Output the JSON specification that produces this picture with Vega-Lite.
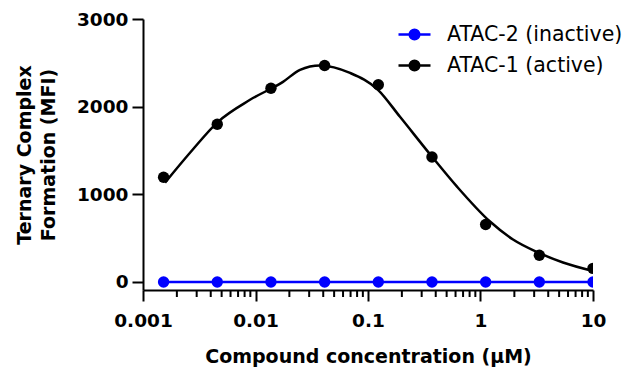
{
  "$schema": "https://vega.github.io/schema/vega-lite/v6.json",
  "width": 450,
  "height": 271,
  "autosize": {"type": "none"},
  "padding": {"left": 143, "top": 19, "right": 30, "bottom": 81},
  "background": "white",
  "config": {
    "view": {"stroke": null},
    "font": "DejaVu Sans",
    "axis": {
      "domainColor": "black",
      "domainWidth": 2,
      "tickColor": "black",
      "tickWidth": 2,
      "labelColor": "black",
      "labelFont": "DejaVu Sans",
      "labelFontWeight": "bold",
      "labelFontSize": 18.5,
      "titleFont": "DejaVu Sans",
      "titleFontWeight": "bold",
      "titleFontSize": 19,
      "titleColor": "black",
      "grid": false
    }
  },
  "datasets": {
    "pts": [
      {"conc": 0.001524, "mfi": 1195, "series": "ATAC-1 (active)"},
      {"conc": 0.004572, "mfi": 1800, "series": "ATAC-1 (active)"},
      {"conc": 0.01372, "mfi": 2210, "series": "ATAC-1 (active)"},
      {"conc": 0.04115, "mfi": 2470, "series": "ATAC-1 (active)"},
      {"conc": 0.1235, "mfi": 2250, "series": "ATAC-1 (active)"},
      {"conc": 0.3704, "mfi": 1425, "series": "ATAC-1 (active)"},
      {"conc": 1.111, "mfi": 655, "series": "ATAC-1 (active)"},
      {"conc": 3.333, "mfi": 305, "series": "ATAC-1 (active)"},
      {"conc": 10, "mfi": 155, "series": "ATAC-1 (active)"},
      {"conc": 0.001524, "mfi": 0, "series": "ATAC-2 (inactive)"},
      {"conc": 0.004572, "mfi": 0, "series": "ATAC-2 (inactive)"},
      {"conc": 0.01372, "mfi": 0, "series": "ATAC-2 (inactive)"},
      {"conc": 0.04115, "mfi": 0, "series": "ATAC-2 (inactive)"},
      {"conc": 0.1235, "mfi": 0, "series": "ATAC-2 (inactive)"},
      {"conc": 0.3704, "mfi": 0, "series": "ATAC-2 (inactive)"},
      {"conc": 1.111, "mfi": 0, "series": "ATAC-2 (inactive)"},
      {"conc": 3.333, "mfi": 0, "series": "ATAC-2 (inactive)"},
      {"conc": 10, "mfi": 0, "series": "ATAC-2 (inactive)"}
    ],
    "lines": [
      {"conc": 0.00157, "mfi": 1133, "series": "ATAC-1 (active)"},
      {"conc": 0.002617, "mfi": 1474, "series": "ATAC-1 (active)"},
      {"conc": 0.004642, "mfi": 1827, "series": "ATAC-1 (active)"},
      {"conc": 0.00894, "mfi": 2078, "series": "ATAC-1 (active)"},
      {"conc": 0.01756, "mfi": 2283, "series": "ATAC-1 (active)"},
      {"conc": 0.02487, "mfi": 2420, "series": "ATAC-1 (active)"},
      {"conc": 0.03745, "mfi": 2470, "series": "ATAC-1 (active)"},
      {"conc": 0.0692, "mfi": 2385, "series": "ATAC-1 (active)"},
      {"conc": 0.1227, "mfi": 2192, "series": "ATAC-1 (active)"},
      {"conc": 0.1925, "mfi": 1884, "series": "ATAC-1 (active)"},
      {"conc": 0.3706, "mfi": 1429, "series": "ATAC-1 (active)"},
      {"conc": 0.6183, "mfi": 1087, "series": "ATAC-1 (active)"},
      {"conc": 1.214, "mfi": 689, "series": "ATAC-1 (active)"},
      {"conc": 1.945, "mfi": 484, "series": "ATAC-1 (active)"},
      {"conc": 3.246, "mfi": 336, "series": "ATAC-1 (active)"},
      {"conc": 5.412, "mfi": 222, "series": "ATAC-1 (active)"},
      {"conc": 10, "mfi": 125, "series": "ATAC-1 (active)"},
      {"conc": 0.001524, "mfi": 0, "series": "ATAC-2 (inactive)"},
      {"conc": 10, "mfi": 0, "series": "ATAC-2 (inactive)"}
    ],
    "minor": [
      {"conc": 0.002}, {"conc": 0.003}, {"conc": 0.004}, {"conc": 0.005}, {"conc": 0.006}, {"conc": 0.007}, {"conc": 0.008}, {"conc": 0.009},
      {"conc": 0.02}, {"conc": 0.03}, {"conc": 0.04}, {"conc": 0.05}, {"conc": 0.06}, {"conc": 0.07}, {"conc": 0.08}, {"conc": 0.09},
      {"conc": 0.2}, {"conc": 0.3}, {"conc": 0.4}, {"conc": 0.5}, {"conc": 0.6}, {"conc": 0.7}, {"conc": 0.8}, {"conc": 0.9},
      {"conc": 2}, {"conc": 3}, {"conc": 4}, {"conc": 5}, {"conc": 6}, {"conc": 7}, {"conc": 8}, {"conc": 9}
    ]
  },
  "encoding": {
    "x": {
      "field": "conc",
      "type": "quantitative",
      "scale": {"type": "log", "domain": [0.001, 10], "nice": false},
      "axis": {
        "title": "Compound concentration (μM)",
        "values": [0.001, 0.01, 0.1, 1, 10],
        "format": "~g",
        "tickSize": 11,
        "labelPadding": 10,
        "labelFlush": false,
        "labelOverlap": false,
        "titlePadding": 18
      }
    }
  },
  "layer": [
    {
      "data": {"name": "minor"},
      "mark": {"type": "rule", "color": "black", "strokeWidth": 2, "y2Offset": 7, "clip": false},
      "encoding": {
        "y": {"datum": -92, "type": "quantitative", "scale": {"domain": [-92, 3000], "nice": false, "zero": false}, "axis": {
          "title": ["Ternary Complex", "Formation (MFI)"],
          "titleLineHeight": 24,
          "values": [0, 1000, 2000, 3000],
          "format": "d",
          "tickSize": 11,
          "labelPadding": 4,
          "titlePadding": 18
        }},
        "y2": {"datum": -92}
      }
    },
    {
      "data": {"name": "lines"},
      "mark": {"type": "line", "strokeWidth": 2.5, "interpolate": "monotone", "clip": true},
      "encoding": {
        "y": {"field": "mfi", "type": "quantitative"},
        "color": {
          "field": "series",
          "type": "nominal",
          "sort": ["ATAC-2 (inactive)", "ATAC-1 (active)"],
          "scale": {"domain": ["ATAC-2 (inactive)", "ATAC-1 (active)"], "range": ["#0000ff", "#000000"]},
          "legend": {
            "title": null,
            "orient": "none",
            "legendX": 254,
            "legendY": -2,
            "symbolType": "M-1,0H1M0.3,0A0.3,0.3,0,1,1,-0.3,0A0.3,0.3,0,1,1,0.3,0M0.2,0A0.2,0.2,0,1,1,-0.2,0A0.2,0.2,0,1,1,0.2,0M0.1,0A0.1,0.1,0,1,1,-0.1,0A0.1,0.1,0,1,1,0.1,0M0.03,0A0.03,0.03,0,1,1,-0.03,0A0.03,0.03,0,1,1,0.03,0",
            "symbolSize": 1024,
            "symbolStrokeWidth": 2.5,
            "labelFont": "DejaVu Sans",
            "labelFontSize": 20.5,
            "labelColor": "black",
            "labelOffset": 15,
            "rowPadding": 3,
            "labelLimit": 400
          }
        }
      }
    },
    {
      "data": {"name": "pts"},
      "mark": {"type": "point", "filled": true, "size": 130, "opacity": 1, "clip": true},
      "encoding": {
        "y": {"field": "mfi", "type": "quantitative"},
        "color": {"field": "series", "type": "nominal", "legend": null},
        "order": {"field": "series", "sort": "ascending"}
      }
    }
  ]
}
